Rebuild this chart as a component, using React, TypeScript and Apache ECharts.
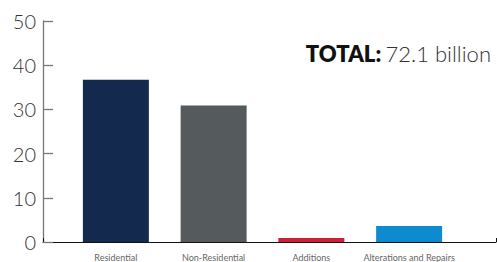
import React, { useEffect, useRef } from "react";
import * as echarts from "echarts";

const categories = ["Residential", "Non-Residential", "Additions", "Alterations and Repairs"];
const values = [36.7, 30.9, 0.9, 3.6];
const barColors = ["#132A4E", "#555A5D", "#CC1F3A", "#0E8BCF"];
const yTicks = { min: 0, max: 50, interval: 10 };
const totalLabel = "TOTAL:";
const totalValue = "72.1 billion";

const FONT = "Lato, 'Noto Sans', sans-serif";

export default function App() {
  const ref = useRef<HTMLDivElement>(null);
  useEffect(() => {
    document.body.style.margin = "0";
    const chart = echarts.init(ref.current!, null, { renderer: "svg" });
    chart.setOption({
      animation: false,
      textStyle: { fontFamily: FONT },
      title: {
        text: `{b|${totalLabel}} {n|${totalValue}}`,
        right: 6,
        top: 42,
        padding: 0,
        textStyle: {
          rich: {
            b: { fontFamily: FONT, fontWeight: 800, fontSize: 22, color: "#111" },
            n: { fontFamily: FONT, fontWeight: 300, fontSize: 22, color: "#333" },
          },
        },
      },
      grid: [
        { left: 43, top: 21, width: 453, height: 221 },
        { left: 67, top: 21, width: 391, height: 221 },
      ],
      xAxis: [
        {
          type: "category",
          gridIndex: 0,
          data: [""],
          axisLine: { lineStyle: { color: "#111", width: 1 } },
          axisTick: { show: true, inside: true, length: 4, lineStyle: { color: "#111" } },
          axisLabel: { show: false },
        },
        {
          type: "category",
          gridIndex: 1,
          data: categories,
          axisLine: { show: false },
          axisTick: { show: false },
          axisLabel: { fontSize: 9, color: "#666", margin: 11, fontFamily: FONT, interval: 0 },
        },
      ],
      yAxis: [
        {
          type: "value",
          gridIndex: 0,
          min: yTicks.min,
          max: yTicks.max,
          interval: yTicks.interval,
          axisLine: { show: true, lineStyle: { color: "#777", width: 1.3 } },
          axisTick: { show: true, inside: true, length: 10, lineStyle: { color: "#777", width: 1.3 } },
          splitLine: { show: false },
          axisLabel: { fontSize: 20, color: "#333", fontWeight: 300, margin: 7, fontFamily: FONT },
        },
        {
          type: "value",
          gridIndex: 1,
          min: yTicks.min,
          max: yTicks.max,
          interval: yTicks.interval,
          show: false,
          splitLine: { show: false },
        },
      ],
      series: [
        {
          type: "bar",
          xAxisIndex: 1,
          yAxisIndex: 1,
          barWidth: 66,
          data: values.map((v, i) => ({ value: v, itemStyle: { color: barColors[i] } })),
        },
      ],
    });
    return () => chart.dispose();
  }, []);
  return <div ref={ref} style={{ position: "absolute", left: 0, top: 0, width: 497, height: 262 }} />;
}
